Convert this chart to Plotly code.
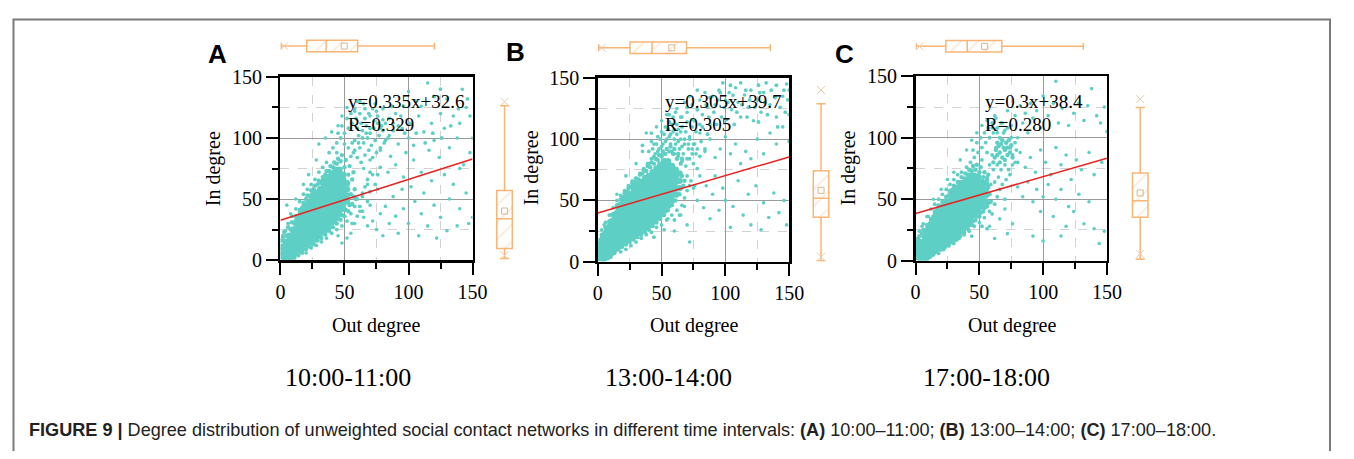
import plotly.graph_objects as go

# The page body keeps its default 8px margin, so the figure is 16px smaller than the window
OFF = 8
W, H = 1354 - 2 * OFF, 459 - 2 * OFF

# ---------------- data ----------------
panel_letters = ["A", "B", "C"]
time_labels = ["10:00-11:00", "13:00-14:00", "17:00-18:00"]
fit_labels = ["y=0.335x+32.6", "y=0.305x+39.7", "y=0.3x+38.4"]
r_labels = ["R=0.329", "R=0.305", "R=0.280"]
fit_slope = [0.335, 0.305, 0.3]
fit_intercept = [32.6, 39.7, 38.4]
fit_x = [0, 150]

# out-degree (top) box statistics
out_q1 = [20.5, 25.2, 23.7]
out_median = [35.7, 42.5, 40.5]
out_q3 = [60.3, 69.6, 67.6]
out_lower = [0.5, 0.7, 0.4]
out_upper = [120.3, 135.3, 131.5]
out_mean = [49.8, 58.0, 54.1]
out_min = [3.0, 3.0, 3.0]

# in-degree (right) box statistics
in_q1 = [9.6, 36.2, 35.3]
in_median = [33.8, 51.7, 48.7]
in_q3 = [57.1, 74.2, 71.4]
in_lower = [1.3, 0.8, 1.2]
in_upper = [126.4, 129.0, 124.7]
in_mean = [40.2, 58.2, 55.1]
in_min = [3.9, 3.9, 5.6]
in_max = [129.7, 140.1, 131.4]

# ---- scatter: solid core columns (out degree -> in degree values), fringe, halo, sparse ----
a_core = {1: [3, 7, 11], 4: [3, 7, 11, 15], 7: [4, 8, 12, 16, 20], 10: [5, 9, 13, 17, 21, 25],
          13: [8, 12, 16, 20, 24, 28, 32], 16: [10, 14, 18, 22, 26, 30, 34, 38],
          19: [13, 17, 21, 25, 29, 33, 37, 41, 45], 22: [15, 19, 23, 27, 31, 35, 39, 43, 47],
          25: [17, 21, 25, 29, 33, 37, 41, 45, 49, 53], 28: [19, 23, 27, 31, 35, 39, 43, 47, 51, 55],
          31: [22, 26, 30, 34, 38, 42, 46, 50, 54, 58], 34: [25, 29, 33, 37, 41, 45, 49, 53, 57, 61, 65],
          37: [28, 32, 36, 40, 44, 48, 52, 56, 60, 64, 68], 40: [31, 35, 39, 43, 47, 51, 55, 59, 63, 67, 71],
          43: [34, 38, 42, 46, 50, 54, 58, 62, 66, 70, 74], 46: [38, 42, 46, 50, 54, 58, 62, 66, 70, 74],
          49: [42, 46, 50, 54, 58, 62, 66, 70], 52: [48, 53, 58, 63]}
a_fringe = [(0.5, 16), (2, 19), (3, 23), (5, 20), (6, 27), (8, 25), (9, 31), (11, 30), (12, 36), (14, 35), (15, 41),
            (17, 43), (18, 47), (20, 50), (21, 53), (23, 52), (24, 57), (26, 58), (27, 61), (29, 62), (30, 65),
            (32, 63), (33, 68), (35, 70), (36, 73), (38, 73), (39, 77), (41, 76), (42, 80), (44, 79), (45, 83),
            (47, 81), (48, 86), (50, 76), (51, 82), (53, 70), (54, 77), (56, 66), (57, 72), (3, 0.5), (6, 1), (8, 3),
            (9, 0.5), (11, 2), (12, 5), (14, 4), (15, 7), (17, 6), (18, 9), (20, 9), (21, 12), (23, 11), (24, 14),
            (26, 13), (27, 16), (29, 16), (30, 19), (32, 18), (33, 22), (35, 21), (36, 24), (38, 24), (39, 27),
            (41, 27), (42, 31), (44, 30), (45, 34), (47, 33), (48, 37), (50, 36), (51, 41), (53, 40), (54, 45),
            (56, 46), (57, 52), (59, 50), (58, 58), (55, 54), (53, 50)]
a_halo = [(38, 88), (41, 92), (44, 96), (47, 100), (50, 104), (53, 108), (56, 112), (59, 116), (62, 120), (45, 104),
          (48, 110), (52, 116), (55, 120), (58, 124), (60, 108), (63, 112), (66, 116), (69, 120), (72, 124), (58, 98),
          (61, 102), (64, 106), (67, 110), (70, 104), (73, 108), (76, 112), (62, 92), (65, 96), (68, 100), (71, 94),
          (74, 98), (77, 102), (80, 106), (57, 88), (60, 84), (63, 80), (66, 86), (69, 90), (72, 84), (75, 88),
          (78, 92), (81, 96), (84, 100), (53, 92), (56, 96), (50, 95), (44, 88), (36, 80), (33, 76), (30, 72),
          (27, 66), (24, 62), (21, 58), (18, 54), (15, 48), (12, 42), (9, 36), (6, 30), (4, 24), (2, 20), (20, 6),
          (24, 10), (28, 12), (32, 15), (36, 18), (40, 22), (44, 25), (48, 28), (52, 32), (55, 38), (58, 44),
          (60, 50), (56, 30), (60, 36), (62, 44), (64, 52), (66, 60), (68, 66), (70, 72), (64, 40), (68, 48),
          (70, 56), (74, 62), (76, 70), (78, 76), (55, 85), (58, 90), (61, 96), (64, 100), (67, 104), (70, 108),
          (73, 114), (76, 118), (79, 110), (82, 112), (85, 116), (88, 106), (92, 110), (97, 104), (101, 112),
          (106, 104), (113, 96), (119, 104), (126, 100), (133, 110), (139, 124), (146, 132), (120, 134), (125, 140),
          (96, 126), (87, 126), (80, 124), (74, 128), (66, 124), (62, 130)]
a_sparse = [(5, 45), (12, 50), (8, 38), (18, 62), (22, 70), (28, 82), (30, 95), (35, 100), (40, 105), (45, 110),
            (48, 118), (52, 125), (58, 122), (60, 130), (65, 128), (70, 118), (75, 122), (78, 108), (80, 115),
            (82, 98), (85, 102), (88, 112), (90, 120), (92, 95), (95, 108), (98, 88), (100, 100), (104, 94),
            (108, 118), (110, 126), (112, 105), (115, 145), (118, 112), (120, 98), (125, 120), (128, 108),
            (130, 132), (135, 118), (138, 100), (140, 112), (142, 140), (145, 125), (148, 118), (150, 100), (62, 40),
            (65, 35), (68, 28), (70, 45), (72, 32), (75, 25), (78, 38), (80, 20), (82, 44), (85, 30), (88, 52),
            (90, 36), (92, 22), (95, 58), (96, 42), (100, 30), (102, 60), (105, 48), (108, 20), (110, 38), (112, 55),
            (115, 28), (118, 65), (120, 45), (122, 18), (125, 35), (128, 70), (130, 24), (132, 50), (135, 62),
            (138, 28), (140, 42), (143, 78), (145, 55), (147, 30), (150, 35), (58, 30), (55, 22), (52, 18), (48, 14),
            (45, 20), (64, 55), (68, 62), (72, 70), (76, 58), (84, 72), (90, 78), (96, 68), (104, 82), (110, 72),
            (116, 90), (124, 84), (132, 92), (140, 75), (148, 88), (65, 75), (70, 82), (78, 90), (86, 85), (94, 118),
            (100, 138), (106, 130)]

b_core = {1: [3, 7, 11], 4: [3, 7, 11, 15, 19], 7: [5, 9, 13, 17, 21, 25], 10: [7, 11, 15, 19, 23, 27, 31],
          13: [10, 14, 18, 22, 26, 30, 34, 38], 16: [13, 17, 21, 25, 29, 33, 37, 41, 45],
          19: [15, 19, 23, 27, 31, 35, 39, 43, 47], 22: [17, 21, 25, 29, 33, 37, 41, 45, 49, 53],
          25: [19, 23, 27, 31, 35, 39, 43, 47, 51, 55], 28: [21, 25, 29, 33, 37, 41, 45, 49, 53, 57, 61],
          31: [23, 27, 31, 35, 39, 43, 47, 51, 55, 59, 63], 34: [25, 29, 33, 37, 41, 45, 49, 53, 57, 61, 65],
          37: [28, 32, 36, 40, 44, 48, 52, 56, 60, 64, 68], 40: [30, 34, 38, 42, 46, 50, 54, 58, 62, 66, 70],
          43: [33, 37, 41, 45, 49, 53, 57, 61, 65, 69, 73], 46: [36, 40, 44, 48, 52, 56, 60, 64, 68, 72, 76],
          49: [39, 43, 47, 51, 55, 59, 63, 67, 71, 75, 79], 52: [42, 46, 50, 54, 58, 62, 66, 70, 74, 78, 82],
          55: [46, 50, 54, 58, 62, 66, 70, 74, 78, 82], 58: [50, 54, 58, 62, 66, 70, 74, 78],
          61: [55, 60, 65, 70, 75], 64: [60, 66, 72]}
b_fringe = [(1, 15), (2, 18), (3, 22), (5, 23), (6, 28), (8, 29), (9, 33), (11, 34), (12, 39), (14, 40), (15, 46),
            (17, 47), (18, 51), (20, 52), (21, 56), (23, 57), (24, 60), (26, 61), (27, 64), (29, 65), (30, 68),
            (32, 67), (33, 71), (35, 72), (36, 75), (38, 74), (39, 78), (41, 77), (42, 81), (44, 80), (45, 84),
            (47, 83), (48, 87), (50, 86), (51, 90), (53, 88), (54, 92), (56, 90), (57, 94), (59, 88), (60, 92),
            (62, 84), (63, 88), (65, 80), (66, 84), (4, 0.5), (6, 2), (8, 3), (10, 4), (11, 6), (13, 7), (14, 9),
            (16, 10), (17, 12), (19, 12), (20, 15), (22, 14), (23, 17), (25, 16), (26, 19), (28, 18), (29, 21),
            (31, 20), (32, 23), (34, 22), (35, 25), (37, 24), (38, 27), (40, 26), (41, 29), (43, 29), (44, 32),
            (46, 32), (47, 35), (49, 35), (50, 38), (52, 38), (53, 41), (55, 42), (56, 45), (58, 46), (59, 49),
            (61, 50), (62, 54), (64, 55), (65, 60), (67, 62), (68, 66), (66, 70)]
b_halo = [(36, 76), (39, 80), (42, 84), (45, 88), (48, 92), (51, 96), (54, 100), (57, 104), (60, 108), (40, 90),
          (44, 96), (47, 102), (50, 106), (53, 110), (56, 114), (59, 118), (62, 112), (65, 106), (68, 100), (71, 96),
          (74, 92), (77, 88), (66, 94), (63, 98), (60, 88), (63, 86), (66, 82), (69, 78), (72, 84), (75, 80), (78, 76),
          (70, 70), (73, 66), (76, 62), (80, 86), (84, 92), (58, 90), (52, 88), (46, 84), (40, 80), (33, 72),
          (30, 68), (27, 66), (24, 62), (21, 58), (18, 54), (15, 50), (12, 44), (9, 38), (6, 32), (3, 26), (35, 95),
          (42, 105), (18, 8), (22, 10), (26, 13), (30, 16), (34, 19), (38, 22), (42, 24), (46, 28), (50, 30),
          (54, 34), (58, 38), (62, 42), (66, 46), (60, 34), (64, 38), (68, 52), (70, 58), (72, 62), (44, 20),
          (52, 26), (44, 86), (47, 90), (50, 94), (53, 98), (56, 102), (59, 106), (62, 104), (65, 100), (68, 96),
          (71, 92), (74, 88), (61, 96), (64, 92), (67, 88), (70, 84), (55, 108), (58, 112), (52, 104), (49, 100),
          (46, 96), (43, 92), (57, 96), (60, 100), (63, 108), (66, 110), (69, 106), (72, 100), (75, 96), (78, 92),
          (81, 98), (77, 106), (80, 112), (74, 116), (70, 114), (65, 118), (61, 122), (56, 120), (85, 128),
          (88, 134), (91, 122), (94, 132), (96, 138), (99, 126), (102, 130), (106, 136), (109, 122), (113, 128),
          (116, 140), (119, 132), (123, 126), (127, 138), (131, 130), (136, 140), (139, 134), (143, 126), (146, 140),
          (149, 132), (87, 118), (93, 112), (101, 116), (107, 112), (117, 118), (126, 114), (133, 120), (141, 110),
          (147, 122), (82, 110), (86, 104), (78, 124), (74, 110), (70, 126), (98, 146), (104, 144), (112, 146),
          (132, 146), (140, 144), (126, 144)]
b_sparse = [(5, 30), (10, 38), (15, 55), (22, 70), (30, 80), (35, 90), (38, 105), (42, 98), (46, 110), (50, 115),
            (54, 120), (58, 112), (62, 125), (66, 118), (68, 130), (70, 122), (72, 135), (74, 128), (76, 115),
            (78, 140), (80, 132), (82, 120), (84, 138), (86, 126), (88, 112), (90, 135), (92, 128), (95, 140),
            (97, 118), (100, 132), (103, 138), (105, 124), (108, 142), (110, 130), (112, 118), (115, 136), (118, 126),
            (120, 140), (122, 115), (125, 132), (128, 122), (130, 138), (135, 128), (140, 118), (145, 135), (148, 145),
            (150, 140), (150, 120), (150, 98), (72, 102), (76, 96), (80, 105), (84, 90), (88, 100), (92, 85), (96, 92),
            (100, 102), (104, 88), (108, 96), (112, 80), (116, 90), (120, 84), (125, 100), (130, 88), (135, 105),
            (140, 96), (145, 110), (75, 60), (78, 50), (80, 70), (83, 44), (85, 62), (88, 35), (90, 55), (92, 70),
            (95, 42), (98, 60), (100, 50), (104, 28), (106, 45), (110, 66), (114, 38), (118, 55), (120, 30),
            (124, 62), (128, 26), (130, 48), (134, 36), (138, 56), (142, 40), (146, 50), (148, 30), (65, 38),
            (70, 30), (60, 25), (55, 35), (68, 45), (72, 16)]

c_core = {1: [3, 7, 11], 4: [3, 7, 11, 15], 7: [4, 8, 12, 16, 20], 10: [6, 10, 14, 18, 22, 26],
          13: [8, 12, 16, 20, 24, 28, 32], 16: [10, 14, 18, 22, 26, 30, 34, 38],
          19: [12, 16, 20, 24, 28, 32, 36, 40], 22: [14, 18, 22, 26, 30, 34, 38, 42, 46],
          25: [16, 20, 24, 28, 32, 36, 40, 44, 48], 28: [18, 22, 26, 30, 34, 38, 42, 46, 50, 54],
          31: [21, 25, 29, 33, 37, 41, 45, 49, 53, 57], 34: [24, 28, 32, 36, 40, 44, 48, 52, 56, 60],
          37: [27, 31, 35, 39, 43, 47, 51, 55, 59, 63], 40: [30, 34, 38, 42, 46, 50, 54, 58, 62, 66],
          43: [33, 37, 41, 45, 49, 53, 57, 61, 65, 69], 46: [37, 41, 45, 49, 53, 57, 61, 65, 69],
          49: [40, 44, 48, 52, 56, 60, 64, 68], 52: [44, 48, 52, 56, 60, 64], 55: [48, 53, 58, 63]}
c_fringe = [(1, 15), (2, 18), (3, 20), (5, 22), (6, 25), (8, 24), (9, 29), (11, 30), (12, 34), (14, 36), (15, 40),
            (17, 42), (18, 45), (20, 44), (21, 48), (23, 49), (24, 52), (26, 53), (27, 57), (29, 58), (30, 61),
            (32, 60), (33, 64), (35, 64), (36, 68), (38, 67), (39, 71), (41, 70), (42, 74), (44, 73), (45, 77),
            (47, 74), (48, 78), (50, 72), (51, 76), (53, 68), (54, 72), (56, 66), (57, 70), (3, 0.5), (6, 1), (8, 2),
            (9, 0.5), (11, 3), (12, 4), (14, 5), (15, 7), (17, 7), (18, 9), (20, 9), (21, 11), (23, 11), (24, 13),
            (26, 13), (27, 15), (29, 15), (30, 17), (32, 17), (33, 20), (35, 20), (36, 23), (38, 23), (39, 26),
            (41, 26), (42, 29), (44, 29), (45, 32), (47, 33), (48, 36), (50, 36), (51, 39), (53, 40), (54, 43),
            (56, 44), (57, 47), (59, 48), (58, 54), (57, 60), (62, 84), (64, 86), (66, 88), (68, 84), (70, 90),
            (72, 86), (74, 92), (63, 90), (65, 93), (67, 95), (69, 92), (71, 96), (73, 98), (75, 94), (66, 80),
            (70, 82), (74, 88), (76, 84), (61, 80), (68, 98), (72, 92), (64, 96)]
c_halo = [(40, 76), (43, 80), (46, 84), (49, 88), (52, 92), (55, 96), (58, 100), (61, 104), (64, 108), (67, 112),
          (45, 90), (48, 96), (51, 100), (54, 104), (57, 108), (60, 112), (63, 116), (66, 100), (69, 104), (72, 108),
          (75, 100), (78, 96), (76, 86), (79, 90), (80, 80), (58, 78), (61, 74), (64, 78), (67, 74), (70, 78),
          (73, 74), (76, 78), (60, 86), (63, 92), (56, 88), (52, 82), (36, 72), (33, 70), (30, 66), (27, 62),
          (24, 58), (21, 54), (18, 50), (15, 46), (12, 42), (9, 36), (6, 30), (3, 24), (62, 64), (65, 68), (68, 62),
          (71, 66), (74, 70), (56, 68), (59, 62), (18, 6), (22, 9), (26, 12), (30, 14), (34, 18), (38, 21), (42, 24),
          (46, 28), (50, 31), (54, 35), (58, 40), (62, 46), (60, 38), (64, 52), (66, 58), (70, 50), (52, 28),
          (44, 20), (56, 26)]
c_sparse = [(5, 28), (10, 36), (14, 50), (20, 58), (25, 66), (30, 72), (35, 82), (40, 90), (44, 98), (48, 104),
            (52, 110), (56, 114), (60, 108), (62, 118), (64, 104), (68, 112), (70, 106), (72, 122), (75, 110),
            (78, 118), (80, 100), (82, 126), (84, 112), (86, 120), (88, 104), (90, 128), (92, 116), (95, 122),
            (98, 108), (100, 134), (104, 118), (108, 128), (110, 146), (112, 112), (115, 124), (118, 132), (120, 110),
            (124, 120), (128, 128), (132, 114), (135, 126), (138, 140), (142, 118), (145, 112), (148, 125), (150, 105),
            (78, 80), (82, 88), (86, 76), (90, 84), (94, 72), (98, 90), (102, 80), (106, 70), (110, 92), (114, 78),
            (118, 86), (122, 66), (126, 82), (130, 74), (136, 88), (140, 70), (146, 80), (80, 60), (84, 52), (88, 64),
            (92, 48), (95, 58), (98, 40), (100, 52), (104, 62), (108, 36), (110, 50), (114, 58), (118, 28), (120, 44),
            (124, 40), (128, 54), (132, 30), (136, 48), (140, 26), (144, 14), (148, 24), (66, 34), (70, 42), (72, 22),
            (76, 30), (62, 18), (58, 28), (92, 20), (100, 16), (114, 20)]

core_sets = [a_core, b_core, c_core]
fringe_sets = [a_fringe, b_fringe, c_fringe]
halo_sets = [a_halo, b_halo, c_halo]
sparse_sets = [a_sparse, b_sparse, c_sparse]

# ---------------- layout geometry (window pixels) ----------------
main_x_px = [(279.5, 474.5), (601.7, 795.9), (924.3, 1118.5)]
main_y_px = [(69.0, 261.7), (70.0, 263.3), (68.3, 262.3)]
top_box_cy = [36.5, 38.3, 36.8]
right_box_cx = [507.0, 828.3, 1152.3]
letter_pos = [(216, 45), (518.5, 43), (852.5, 45)]
ytitle_x = [211, 534, 856]
xtitle_x = [377, 699, 1021.7]
time_x = [348, 673, 996]
fit_text_x = [346.5, 667.7, 992.3]

TEAL = "#5ECFC5"
ORANGE = "#F9B574"
HATCH = "#F6CDA4"
XMARK = "#ECCBA8"
MEANC = "#D8B88C"
SERIF = "Liberation Serif"


def px(x):
    return (x - OFF) / W


def py(y):
    return 1 - (y - OFF) / H


def xd(a, b):
    return [px(a), px(b)]


def yd(top, bot):
    return [py(bot), py(top)]


fig = go.Figure()
layout = dict(width=W, height=H, margin=dict(l=0, r=0, t=0, b=0), paper_bgcolor="white",
              plot_bgcolor="white", showlegend=False, annotations=[], shapes=[])

tickfont = dict(family=SERIF, size=20, color="black")


def main_axis(domain, anchor):
    return dict(domain=domain, anchor=anchor, range=[0, 150], showline=True, linecolor="black",
                linewidth=2.5, mirror=True, ticks="outside", ticklen=12, tickwidth=2, tickcolor="black",
                tickvals=[0, 50, 100, 150], showgrid=True, gridcolor="#9a9a9a", gridwidth=1, zeroline=False,
                tickfont=tickfont, fixedrange=True,
                minor=dict(tickvals=[25, 75, 125], ticks="outside", ticklen=6, tickwidth=2, tickcolor="black",
                           showgrid=True, gridcolor="#d2d2d2", griddash="dash", gridwidth=1))


def hidden_axis(domain, anchor, rng):
    return dict(domain=domain, anchor=anchor, range=rng, visible=False, fixedrange=True)


def pts(trace_pts, size, ax):
    xs, ys = zip(*trace_pts)
    return go.Scatter(x=xs, y=ys, mode="markers", marker=dict(color=TEAL, size=size),
                      hoverinfo="skip", **ax)


for i in range(3):
    n1, n2, n3 = 3 * i + 1, 3 * i + 2, 3 * i + 3
    xm, ym = main_x_px[i], main_y_px[i]
    xdom = xd(*xm)
    ydom = yd(*ym)
    layout[f"xaxis{n1}"] = main_axis(xdom, f"y{n1}")
    layout[f"yaxis{n1}"] = main_axis(ydom, f"x{n1}")
    cy = top_box_cy[i]
    layout[f"xaxis{n2}"] = hidden_axis(xdom, f"y{n2}", [0, 150])
    layout[f"yaxis{n2}"] = hidden_axis(yd(cy - 11, cy + 11), f"x{n2}", [-1, 1])
    cx = right_box_cx[i]
    layout[f"xaxis{n3}"] = hidden_axis(xd(cx - 15, cx + 15), f"y{n3}", [-1, 1])
    layout[f"yaxis{n3}"] = hidden_axis(ydom, f"x{n3}", [0, 150])

    ax1 = dict(xaxis=f"x{n1}", yaxis=f"y{n1}")
    ax2 = dict(xaxis=f"x{n2}", yaxis=f"y{n2}")
    ax3 = dict(xaxis=f"x{n3}", yaxis=f"y{n3}")

    # scatter layers
    fig.add_trace(pts(sparse_sets[i], 3.6, ax1))
    fig.add_trace(pts(halo_sets[i], 3.8, ax1))
    fig.add_trace(pts(fringe_sets[i], 4.4, ax1))
    core_pts = [(x, y) for x, ys in core_sets[i].items() for y in ys]
    fig.add_trace(pts(core_pts, 6.5, ax1))
    # regression line
    fy = [fit_slope[i] * v + fit_intercept[i] for v in fit_x]
    fig.add_trace(go.Scatter(x=fit_x, y=fy, mode="lines", line=dict(color="#E8231F", width=1.5),
                             hoverinfo="skip", **ax1))

    # top (out degree) box
    fig.add_trace(go.Bar(orientation="h", y=[0], x=[out_q3[i] - out_q1[i]], base=[out_q1[i]], width=1.1,
                         marker=dict(color="rgba(0,0,0,0)", line=dict(width=0),
                                     pattern=dict(shape="/", fgcolor=HATCH, size=12, solidity=0.12)),
                         hoverinfo="skip", **ax2))
    fig.add_trace(go.Box(orientation="h", y=[0], q1=[out_q1[i]], median=[out_median[i]], q3=[out_q3[i]],
                         lowerfence=[out_lower[i]], upperfence=[out_upper[i]], width=1.1, whiskerwidth=0.6,
                         boxpoints=False, line=dict(color=ORANGE, width=1.5), fillcolor="rgba(0,0,0,0)",
                         hoverinfo="skip", **ax2))
    fig.add_trace(go.Scatter(x=[out_mean[i]], y=[0], mode="markers",
                             marker=dict(symbol="square-open", size=6, color=MEANC, line=dict(width=1)),
                             hoverinfo="skip", **ax2))
    fig.add_trace(go.Scatter(x=[out_min[i]], y=[0], mode="markers",
                             marker=dict(symbol="x-thin-open", size=8, color=XMARK,
                                         line=dict(width=1, color=XMARK)),
                             hoverinfo="skip", **ax2))

    # right (in degree) box
    fig.add_trace(go.Bar(x=[0], y=[in_q3[i] - in_q1[i]], base=[in_q1[i]], width=1.05,
                         marker=dict(color="rgba(0,0,0,0)", line=dict(width=0),
                                     pattern=dict(shape="/", fgcolor=HATCH, size=12, solidity=0.12)),
                         hoverinfo="skip", **ax3))
    fig.add_trace(go.Box(x=[0], q1=[in_q1[i]], median=[in_median[i]], q3=[in_q3[i]],
                         lowerfence=[in_lower[i]], upperfence=[in_upper[i]], width=1.05, whiskerwidth=0.6,
                         boxpoints=False, line=dict(color=ORANGE, width=1.5), fillcolor="rgba(0,0,0,0)",
                         hoverinfo="skip", **ax3))
    fig.add_trace(go.Scatter(x=[0], y=[in_mean[i]], mode="markers",
                             marker=dict(symbol="square-open", size=6, color=MEANC, line=dict(width=1)),
                             hoverinfo="skip", **ax3))
    fig.add_trace(go.Scatter(x=[0, 0], y=[in_min[i], in_max[i]], mode="markers",
                             marker=dict(symbol="x-thin-open", size=8, color=XMARK,
                                         line=dict(width=1, color=XMARK)),
                             hoverinfo="skip", **ax3))

    ann = layout["annotations"]
    ann.append(dict(text=f"<b>{panel_letters[i]}</b>", x=px(letter_pos[i][0]), y=py(letter_pos[i][1]),
                    xref="paper", yref="paper", showarrow=False, xanchor="center", yanchor="middle",
                    font=dict(family="Liberation Sans", size=26, color="black")))
    ann.append(dict(text="In degree", x=px(ytitle_x[i]), y=py(165), xref="paper", yref="paper",
                    showarrow=False, textangle=-90, xanchor="center", yanchor="middle",
                    font=dict(family=SERIF, size=20, color="black")))
    ann.append(dict(text="Out degree", x=px(xtitle_x[i]), y=py(330), xref="paper", yref="paper",
                    showarrow=False, xanchor="center", yanchor="middle",
                    font=dict(family=SERIF, size=20, color="black")))
    ann.append(dict(text=fit_labels[i], x=px(fit_text_x[i]), y=py(95), xref="paper", yref="paper",
                    showarrow=False, xanchor="left", yanchor="middle",
                    font=dict(family=SERIF, size=19, color="black")))
    ann.append(dict(text=r_labels[i], x=px(fit_text_x[i]), y=py(119.5), xref="paper", yref="paper",
                    showarrow=False, xanchor="left", yanchor="middle",
                    font=dict(family=SERIF, size=19, color="black")))
    ann.append(dict(text=time_labels[i], x=px(time_x[i]), y=py(385), xref="paper", yref="paper",
                    showarrow=False, xanchor="center", yanchor="middle",
                    font=dict(family=SERIF, size=26, color="black")))

caption = ("<b>FIGURE 9 |</b> Degree distribution of unweighted social contact networks in different time "
           "intervals: <b>(A)</b> 10:00–11:00; <b>(B)</b> 13:00–14:00; <b>(C)</b> 17:00–18:00.")
layout["annotations"].append(dict(text=caption, x=px(22), y=py(440), xref="paper", yref="paper",
                                  showarrow=False, xanchor="left", yanchor="middle",
                                  font=dict(family="Liberation Sans", size=18.1, color="#222")))

layout["shapes"].append(dict(type="rect", xref="paper", yref="paper", x0=px(8.5), x1=(W - 1) / W,
                             y0=-0.3, y1=py(8.5), line=dict(color="#7a7a7a", width=2), layer="above"))

fig.update_layout(**layout)
fig.write_html("out.html", config={"displayModeBar": False, "staticPlot": True})
